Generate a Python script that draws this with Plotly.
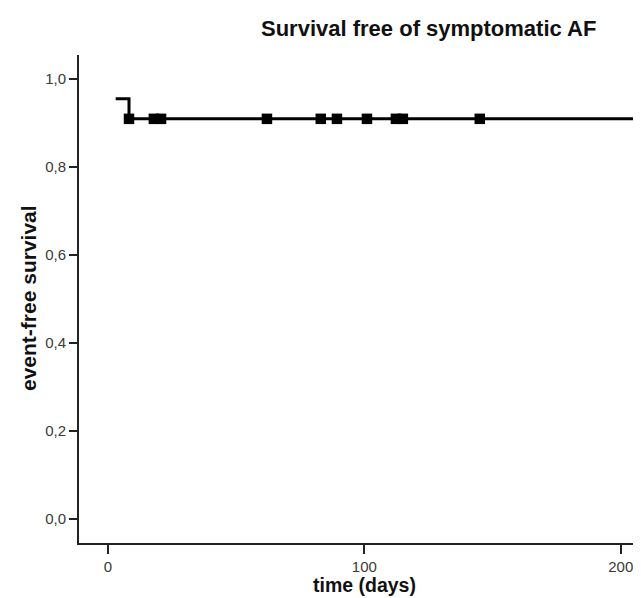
import plotly.graph_objects as go

# Kaplan-Meier step curve (time in days, survival)
curve_time = [3, 8.2, 230]
curve_surv = [0.9545, 0.909, 0.909]

# Censored observations
censor_time = [8.2, 17.9, 20.7, 62, 83, 89.3, 101, 112.3, 115, 145]
censor_surv = [0.909] * len(censor_time)

y_tickvals = [0.0, 0.2, 0.4, 0.6, 0.8, 1.0]
y_ticktext = ["0,0", "0,2", "0,4", "0,6", "0,8", "1,0"]
x_tickvals = [0, 100, 200]
x_ticktext = ["0", "100", "200"]

FONT = "Liberation Sans, Arial, sans-serif"

fig = go.Figure()
fig.add_trace(go.Scatter(
    x=curve_time, y=curve_surv, mode="lines", line_shape="hv",
    line=dict(color="black", width=3), showlegend=False, hoverinfo="skip"))
fig.add_trace(go.Scatter(
    x=censor_time, y=censor_surv, mode="markers",
    marker=dict(symbol="square", size=10.5, color="black"),
    showlegend=False))

fig.update_layout(
    width=641, height=598,
    margin=dict(l=71, r=0, t=47, b=63),
    paper_bgcolor="white", plot_bgcolor="white",
    font=dict(family=FONT, size=15, color="#333333"),
    xaxis=dict(range=[-11.3, 211], tickvals=x_tickvals, ticktext=x_ticktext,
               showgrid=False, zeroline=False, showline=True, linecolor="#222222",
               linewidth=2, ticks="outside", ticklen=9, tickwidth=2, tickcolor="#222222",
               tickfont=dict(size=15, color="#3a3a3a")),
    yaxis=dict(range=[-0.0545, 1.054], tickvals=y_tickvals, ticktext=y_ticktext,
               showgrid=False, zeroline=False, showline=True, linecolor="#222222",
               linewidth=2, ticks="outside", ticklen=8, tickwidth=2, tickcolor="#222222",
               tickfont=dict(size=15, color="#3a3a3a")),
    annotations=[
        dict(text="<b>Survival free of symptomatic AF</b>", xref="paper", yref="paper",
             x=0.614, y=1.055, xanchor="center", yanchor="middle", showarrow=False,
             font=dict(family=FONT, size=22, color="#111111")),
        dict(text="<b>time (days)</b>", xref="paper", yref="paper",
             x=0.5, y=-0.087, xanchor="center", yanchor="middle", showarrow=False,
             font=dict(family=FONT, size=19.5, color="#111111")),
        dict(text="<b>event-free survival</b>", xref="paper", yref="paper",
             x=-0.0895, y=0.502, xanchor="center", yanchor="middle", showarrow=False,
             textangle=-90, font=dict(family=FONT, size=21, color="#111111")),
    ],
)

fig.write_html("out.html")
